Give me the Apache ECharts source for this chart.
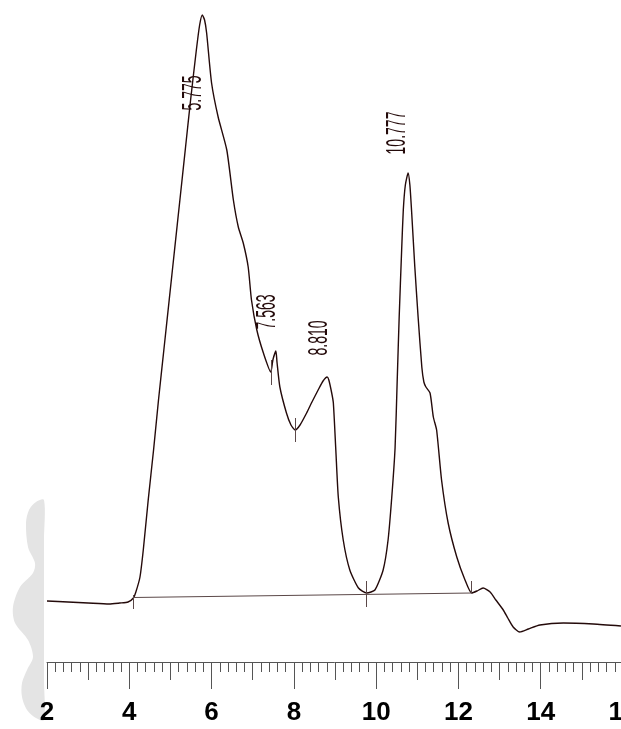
<!DOCTYPE html>
<html><head><meta charset="utf-8">
<script src="https://cdn.jsdelivr.net/npm/echarts@6/dist/echarts.min.js"></script>
<style>html,body{margin:0;padding:0;background:#fff}#c{width:621px;height:729px}</style>
</head><body><div id="c"></div>
<script>
// Retention time (min)
const retentionTime = [2.00,2.51,3.00,3.51,3.77,3.97,4.10,4.16,4.26,4.34,4.46,4.59,4.71,4.84,4.97,5.10,5.23,5.36,5.49,5.63,5.71,5.775,5.83,5.88,6.00,6.16,6.37,6.53,6.65,6.77,6.89,6.97,7.10,7.26,7.44,7.49,7.563,7.59,7.66,7.82,7.93,8.03,8.15,8.31,8.44,8.59,8.71,8.810,8.85,8.92,8.96,9.02,9.08,9.20,9.36,9.57,9.77,9.97,10.17,10.29,10.38,10.46,10.51,10.56,10.62,10.66,10.71,10.777,10.82,10.86,10.94,11.02,11.11,11.16,11.21,11.31,11.39,11.47,11.59,11.75,11.96,12.16,12.32,12.45,12.60,12.77,12.91,13.09,13.20,13.33,13.49,13.70,13.98,14.55,15.28,15.95];
// Detector signal (arbitrary units)
const signal = [0.0,-0.2,-0.4,-0.6,-0.4,-0.2,0.6,1.8,4.8,10.2,20.2,30.2,40.2,50.2,60.2,70.2,80.2,90.2,100.2,110.2,115.2,117.2,116.2,113.6,103.6,96.8,90.2,80.2,74.8,71.6,66.8,60.2,54.2,49.6,45.8,48.2,50.0,47.8,42.8,37.6,35.2,34.2,35.2,37.6,39.8,42.2,44.0,44.8,44.2,41.6,39.6,30.2,20.8,12.2,6.2,2.6,1.6,2.2,6.2,12.2,20.8,30.6,43.6,56.8,70.2,78.2,83.2,85.6,83.2,78.2,66.8,56.8,46.8,43.8,42.8,41.6,36.8,34.2,24.2,15.6,8.8,4.2,1.6,2.0,2.6,1.8,0.2,-1.8,-3.4,-5.2,-6.2,-5.6,-4.8,-4.4,-4.6,-5.0];

// Peaks
const peakTimes = [5.775, 7.563, 8.810, 10.777];
const peakHeights = [117.2, 50.0, 44.8, 85.6];
const peakLabels = ['5.775', '7.563', '8.810', '10.777'];

// Integration baseline and event marks
const baselineTimes = [4.10, 12.32];
const baselineValues = [0.7, 1.6];
const eventTimes = [4.10, 7.44, 8.03, 9.77, 12.32];
const eventTop = [1.2, 48.2, 36.6, 4.0, 4.0];
const eventBottom = [-1.6, 43.2, 31.8, -1.2, 1.6];

// Axis
const xMin = 2, xMax = 16, yMin = -12.2, yMax = 120.2;

const ink = '#240a0a';
const chart = echarts.init(document.getElementById('c'), null, {renderer: 'canvas'});

const markData = [[{coord: [baselineTimes[0], baselineValues[0]]}, {coord: [baselineTimes[1], baselineValues[1]]}]];
eventTimes.forEach((t, i) => markData.push([{coord: [t, eventTop[i]]}, {coord: [t, eventBottom[i]]}]));

chart.setOption({
  animation: false,
  backgroundColor: '#ffffff',
  grid: {left: 47, right: -2, top: 0, bottom: 67, containLabel: false, outerBoundsMode: 'none'},
  xAxis: [{
    type: 'value', min: xMin, max: xMax, interval: 2, position: 'bottom',
    axisLine: {show: true, onZero: false, lineStyle: {color: '#555', width: 1}},
    axisTick: {show: true, length: 27, lineStyle: {color: '#555', width: 1}},
    minorTick: {show: true, splitNumber: 10, length: 10, lineStyle: {color: '#555', width: 1}},
    splitLine: {show: false},
    axisLabel: {show: true, margin: 38, showMinLabel: true, showMaxLabel: true, hideOverlap: false,
      fontFamily: 'Liberation Sans, Arial, sans-serif', fontWeight: 'bold', fontSize: 26, color: '#000'}
  }, {
    type: 'value', min: xMin, max: xMax, interval: 1, position: 'bottom', offset: 0,
    axisLine: {show: false, onZero: false},
    axisTick: {show: true, length: 18, lineStyle: {color: '#555', width: 1}},
    splitLine: {show: false},
    axisLabel: {show: false}
  }],
  yAxis: {type: 'value', min: yMin, max: yMax, show: false, splitLine: {show: false}},
  series: [{
    type: 'line', xAxisIndex: 0,
    data: retentionTime.map((t, i) => [t, signal[i]]),
    showSymbol: false, smooth: 0.2,
    lineStyle: {color: ink, width: 1.4},
    markLine: {
      silent: true, symbol: 'none', label: {show: false},
      lineStyle: {color: '#5b4848', width: 1, type: 'solid'},
      data: markData
    }
  }, {
    type: 'line', xAxisIndex: 1, data: [], showSymbol: false
  }]
});

const labelOffsets = [[-9, 78], [-8, -39], [-7.5, -39], [-11, -40]];
const graphics = [{
  type: 'polygon', z: -10, silent: true,
  shape: {points: [[44,500],[36,502],[29,510],[26,523],[28,547],[35,563],[33,573],[20,587],[13,607],[15,623],[28,640],[33,657],[27,670],[22,683],[22,697],[27,710],[36,718],[44,720],[44,680],[44,610],[44,540]], smooth: 0.3},
  style: {fill: '#e4e4e4'}
}];
peakTimes.forEach((t, i) => {
  const p = chart.convertToPixel({gridIndex: 0}, [t, peakHeights[i]]);
  graphics.push({
    type: 'text', silent: true,
    x: p[0] + labelOffsets[i][0], y: p[1] + labelOffsets[i][1],
    rotation: Math.PI / 2, scaleX: 0.52, scaleY: 1,
    style: {text: peakLabels[i], font: '27px "Liberation Sans", Arial, sans-serif', fill: ink,
      align: 'center', verticalAlign: 'middle', textAlign: 'center', textVerticalAlign: 'middle'}
  });
});
chart.setOption({graphic: {elements: graphics}});
</script>
</body></html>
